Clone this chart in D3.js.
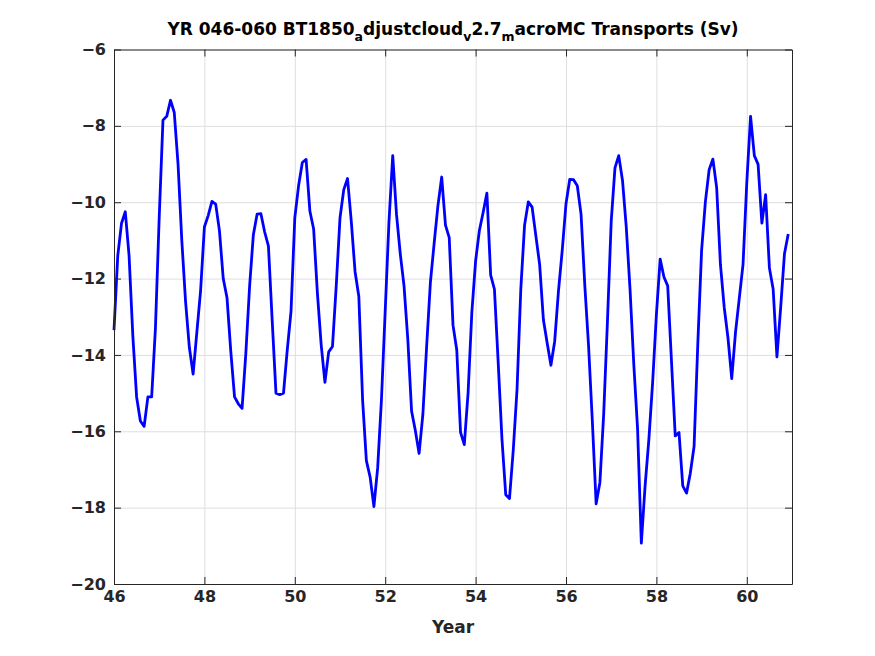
<!DOCTYPE html>
<html>
<head>
<meta charset="utf-8">
<script src="https://cdn.jsdelivr.net/npm/d3@7"></script>
<style>
  body { margin: 0; background: #fff; }
  svg { font-family: "DejaVu Sans", sans-serif; }
  .axis path, .axis line { stroke: #262626; }
  .axis text { fill: #262626; font-family: "DejaVu Sans", sans-serif; font-size: 16px; font-weight: bold; }
  .grid line { stroke: #dedede; }
  .grid path { display: none; }
</style>
</head>
<body>
<div id="chart"></div>
<script>
// monthly transport values, years 46..60
const startYear = 46;
const stepsPerYear = 12;
const transport = [
  -13.35, -11.4, -10.55, -10.25, -11.4, -13.5, -15.1, -15.73, -15.87, -15.1, -15.1, -13.3,
  -10.4, -7.85, -7.75, -7.33, -7.65, -9.0, -11.0, -12.6, -13.8, -14.5, -13.4, -12.3,
  -10.65, -10.35, -9.98, -10.05, -10.75, -12.0, -12.5, -13.9, -15.1, -15.28, -15.4, -13.96,
  -12.2, -10.85, -10.31, -10.3, -10.78, -11.15, -13.1, -15.0, -15.04, -15.0, -13.87, -12.85,
  -10.41, -9.57, -8.96, -8.88, -10.23, -10.7, -12.38, -13.73, -14.72, -13.92, -13.78, -12.19,
  -10.41, -9.67, -9.38, -10.51, -11.82, -12.47, -15.18, -16.77, -17.2, -17.97, -16.96, -15.18,
  -12.85, -10.51, -8.78, -10.32, -11.35, -12.19, -13.59, -15.47, -15.98, -16.58, -15.56, -13.78,
  -12.1, -11.07, -10.09, -9.34, -10.6, -10.93, -13.22, -13.87, -16.03, -16.35, -15.0, -12.89,
  -11.54, -10.74, -10.27, -9.76, -11.91, -12.28, -14.2, -16.21, -17.66, -17.76, -16.49, -14.9,
  -12.28, -10.6, -9.99, -10.13, -10.88, -11.63, -13.08, -13.69, -14.27, -13.64, -12.33, -11.26,
  -10.04, -9.4, -9.41, -9.57, -10.32, -12.19, -13.78, -15.75, -17.9, -17.34, -15.56, -13.13,
  -10.51, -9.1, -8.78, -9.43, -10.65, -12.28, -14.25, -15.93, -18.93, -17.43, -16.21, -14.72,
  -12.94, -11.49, -11.96, -12.19, -14.16, -16.12, -16.03, -17.43, -17.62, -17.1, -16.4, -13.69,
  -11.26, -9.99, -9.15, -8.87, -9.62, -11.63, -12.75, -13.55, -14.62, -13.41, -12.52, -11.63,
  -9.48, -7.75, -8.78, -9.01, -10.55, -9.8, -11.72, -12.28, -14.05, -12.75, -11.35, -10.83
];
const xTicks = [46, 48, 50, 52, 54, 56, 58, 60];
const yTicks = [-20, -18, -16, -14, -12, -10, -8, -6];
const xDomain = [46, 61];
const yDomain = [-20, -6];

const margin = { top: 49.5, right: 83, bottom: 72, left: 114 },
      width = 875 - margin.left - margin.right,
      height = 656 - margin.top - margin.bottom;

const svg = d3.select("#chart").append("svg")
    .attr("width", 875)
    .attr("height", 656);

const g = svg.append("g")
    .attr("transform", `translate(${margin.left},${margin.top})`);

const x = d3.scaleLinear().domain(xDomain).range([0, width]);
const y = d3.scaleLinear().domain(yDomain).range([height, 0]);

// grid
g.append("g")
    .attr("class", "grid")
    .attr("transform", `translate(0,${height})`)
    .call(d3.axisBottom(x).tickValues(xTicks).tickSize(-height).tickFormat(""));
g.append("g")
    .attr("class", "grid")
    .call(d3.axisLeft(y).tickValues(yTicks).tickSize(-width).tickFormat(""));

// the series
const pts = transport.map((v, i) => ({ t: startYear + i / stepsPerYear, v: v }));
g.append("path")
    .datum(pts)
    .attr("fill", "none")
    .attr("stroke", "#0000ff")
    .attr("stroke-width", 2.8)
    .attr("stroke-linejoin", "round")
    .attr("d", d3.line().x(d => x(d.t)).y(d => y(d.v)));

// axes, ticks inside, box on
const tl = 7;
g.append("g")
    .attr("class", "axis")
    .attr("transform", `translate(0,${height})`)
    .call(d3.axisBottom(x).tickValues(xTicks).tickSize(-tl).tickPadding(7).tickSizeOuter(0));
g.append("g")
    .attr("class", "axis")
    .call(d3.axisTop(x).tickValues(xTicks).tickSize(-tl).tickFormat("").tickSizeOuter(0));
g.append("g")
    .attr("class", "axis")
    .call(d3.axisLeft(y).tickValues(yTicks).tickSize(-tl).tickPadding(8).tickSizeOuter(0));
g.append("g")
    .attr("class", "axis")
    .attr("transform", `translate(${width},0)`)
    .call(d3.axisRight(y).tickValues(yTicks).tickSize(-tl).tickFormat("").tickSizeOuter(0));

// x label
g.append("text")
    .attr("x", width / 2)
    .attr("y", height + 49)
    .attr("text-anchor", "middle")
    .style("font-size", "17px")
    .style("font-weight", "bold")
    .style("fill", "#262626")
    .text("Year");

// title, with tex-style subscripts
const title = svg.append("text")
    .attr("x", margin.left + width / 2)
    .attr("y", 35)
    .attr("text-anchor", "middle")
    .style("font-size", "17px")
    .style("font-weight", "bold")
    .style("fill", "#000");
const parts = [
  ["YR 046-060 BT1850", false], ["a", true], ["djustcloud", false], ["v", true],
  ["2.7", false], ["m", true], ["acroMC Transports (Sv)", false]
];
parts.forEach((p, i) => {
  const ts = title.append("tspan").text(p[0]);
  if (p[1]) ts.attr("dy", 6).style("font-size", "12.5px");
  else if (i > 0 && parts[i - 1][1]) ts.attr("dy", -6);
});
</script>
</body>
</html>
